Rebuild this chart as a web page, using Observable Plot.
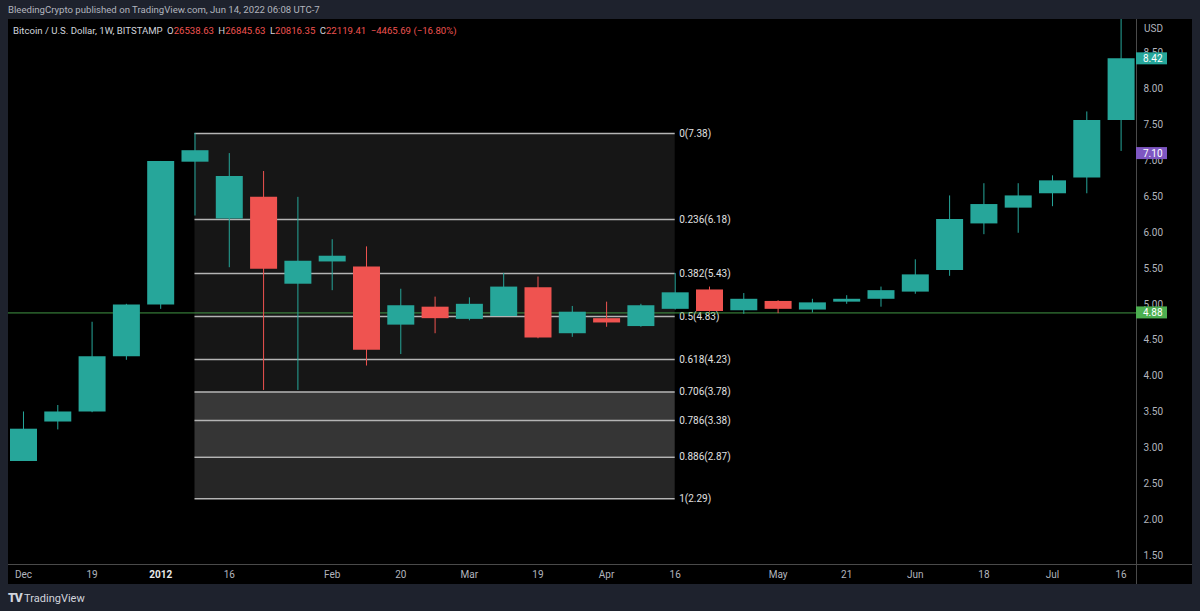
<!DOCTYPE html>
<html><head><meta charset="utf-8">
<script src="https://cdn.jsdelivr.net/npm/d3@7"></script>
<script src="https://cdn.jsdelivr.net/npm/@observablehq/plot@0.6"></script>
<style>
body{margin:0;background:#1e222d;width:1200px;height:611px;overflow:hidden;position:relative;font-family:Roboto,"Liberation Sans",sans-serif;}
#hdr{position:absolute;left:8px;top:4px;font-size:9.6px;color:#b2b5be;white-space:pre}
#chart{position:absolute;left:8px;top:19px;width:1184px;height:565px;background:#000;}
#chart svg{display:block}
#legend{position:absolute;left:13px;top:25px;font-size:9.6px;color:#d1d4dc;white-space:pre}
#legend .v{color:#ef5350}
#legend .g{margin-left:2px}
#usd{position:absolute;left:1144px;top:23px;font-size:10px;color:#b2b5be}
#foot{position:absolute;left:8px;top:591px;font-size:11px;color:#d1d4dc;white-space:pre}
#foot b{font-weight:900;letter-spacing:-1px;font-size:12px}
</style></head><body>
<div id="hdr">BleedingCrypto published on TradingView.com, Jun 14, 2022 06:08 UTC-7</div>
<div id="chart"></div>
<div id="legend">Bitcoin / U.S. Dollar, 1W, BITSTAMP <span class="g">O</span><span class="v">26538.63</span> <span class="g">H</span><span class="v">26845.63</span> <span class="g">L</span><span class="v">20816.35</span> <span class="g">C</span><span class="v">22119.41</span> <span class="v g">−4465.69 (−16.80%)</span></div>
<div id="usd">USD</div>
<div id="foot"><b>TV</b> TradingView</div>
<script>
// weekly candles (week start dates)
const weeks = ["2011-12-05","2011-12-12","2011-12-19","2011-12-26","2012-01-02","2012-01-09","2012-01-16","2012-01-23","2012-01-30",
  "2012-02-06","2012-02-13","2012-02-20","2012-02-27","2012-03-05","2012-03-12","2012-03-19","2012-03-26","2012-04-02","2012-04-09",
  "2012-04-16","2012-04-23","2012-04-30","2012-05-07","2012-05-14","2012-05-21","2012-05-28","2012-06-04","2012-06-11","2012-06-18",
  "2012-06-25","2012-07-02","2012-07-09","2012-07-16"];
const opens  = [2.81,3.36,3.50,4.27,4.99,6.98,6.19,6.49,5.28,5.59,5.52,4.71,4.96,4.79,4.83,5.23,4.59,4.80,4.69,4.93,5.20,4.91,5.04,4.92,5.03,5.07,5.17,5.47,6.12,6.34,6.54,6.76,7.56];
const highs  = [3.50,3.59,4.75,5.00,6.99,7.38,7.10,6.85,6.49,5.90,5.80,5.21,5.10,5.09,5.43,5.38,4.97,5.03,5.00,5.43,5.24,5.15,5.05,5.07,5.12,5.24,5.62,6.51,6.68,6.68,6.79,7.68,9.10];
const lows   = [2.81,3.25,3.49,4.22,4.93,6.23,5.51,3.80,3.80,5.19,4.14,4.30,4.59,4.77,4.83,4.52,4.54,4.68,4.68,4.92,4.89,4.86,4.87,4.88,5.00,4.96,5.14,5.39,5.97,5.99,6.36,6.54,7.13];
const closes = [3.26,3.50,4.27,4.99,6.99,7.14,6.78,5.49,5.60,5.67,4.36,4.98,4.80,5.00,5.24,4.53,4.89,4.74,4.98,5.16,4.90,5.07,4.93,5.02,5.07,5.19,5.41,6.18,6.39,6.51,6.72,7.56,8.42];

// x axis tick labels
const tickWeeks  = ["2011-12-05","2011-12-19","2012-01-02","2012-01-16","2012-02-06","2012-02-20","2012-03-05","2012-03-19","2012-04-02","2012-04-16","2012-05-07","2012-05-21","2012-06-04","2012-06-18","2012-07-02","2012-07-16"];
const tickLabels = ["Dec","19","2012","16","Feb","20","Mar","19","Apr","16","May","21","Jun","18","Jul","16"];
const yTicks = [1.5,2,2.5,3,3.5,4,4.5,5,5.5,6,6.5,7,7.5,8,8.5];

// Fibonacci retracement
const fibLevels = [0,0.236,0.382,0.5,0.618,0.706,0.786,0.886,1];
const fibValues = [7.38,6.18,5.43,4.83,4.23,3.78,3.38,2.87,2.29];
const fibZoneFill = ["#161616","#161616","#161616","#161616","#161616","#383838","#353535","#262626"];
const fibStart = "2012-01-09", fibEnd = "2012-04-16";

// price tags
const tagValues = [8.42,7.10,4.88];
const tagColors = ["#26a69a","#7e57c2","#4caf50"];
const lastLine = 4.88;

const FONT = "Roboto, 'Liberation Sans', sans-serif";
const UP = "#26a69a", DOWN = "#ef5350";
const WEEK = 7*864e5;
const d = s => new Date(s + "T00:00:00Z");
const candles = weeks.map((w,i)=>({date:d(w),o:opens[i],h:highs[i],l:lows[i],c:closes[i],col:closes[i]>=opens[i]?UP:DOWN}));
const fibRows = fibLevels.map((lv,i)=>({lv,v:fibValues[i],label:`${lv}(${fibValues[i].toFixed(2)})`}));
const fibZones = fibValues.slice(0,-1).map((v,i)=>({y1:v,y2:fibValues[i+1],fill:fibZoneFill[i]}));
const labelOf = new Map(tickWeeks.map((w,i)=>[+d(w),tickLabels[i]]));
const d0 = d(weeks[0]);

const chart = Plot.plot({
  width: 1184, height: 565,
  marginLeft: 0, marginRight: 56, marginTop: 0, marginBottom: 20,
  style: {background:"transparent", color:"#b2b5be", fontSize:"10px", fontFamily:FONT},
  x: {type:"utc", domain:[new Date(+d0 - 0.437*WEEK), new Date(+d0 + 32.449*WEEK)]},
  y: {domain:[1.375, 8.968]},
  marks: [
    Plot.rect(fibZones, {x1:()=>d(fibStart), x2:()=>d(fibEnd), y1:"y1", y2:"y2", fill:"fill"}),
    Plot.ruleY(fibRows, {y:"v", x1:()=>d(fibStart), x2:()=>d(fibEnd), stroke:"#b4b4b4", strokeWidth:1.5}),
    Plot.text(fibRows, {y:"v", x:()=>d(fibEnd), text:"label", textAnchor:"start", dx:4, fill:"#e0e0e0", fontSize:10}),
    Plot.ruleY([lastLine], {stroke:"#4caf50", strokeWidth:1, strokeOpacity:0.85}),
    Plot.ruleX(candles, {x:"date", y1:"l", y2:"h", stroke:"col", strokeWidth:1}),
    Plot.ruleX(candles, {x:"date", y1:"o", y2:"c", stroke:"col", strokeWidth:27}),
    Plot.axisY({anchor:"right", ticks:yTicks, tickSize:0, tickPadding:7, tickFormat:v=>v.toFixed(2), label:null}),
    Plot.axisX({ticks:tickWeeks.map(d), tickSize:0, tickPadding:6, tickFormat:t=>labelOf.get(+t) ?? "", label:null})
  ]
});
document.getElementById("chart").appendChild(chart);

const svg = d3.select(chart);
svg.selectAll("text").filter(function(){return this.textContent==="2012";}).attr("font-weight","bold").attr("fill","#e8e8e8");
// separators
svg.append("line").attr("x1",1128.5).attr("x2",1128.5).attr("y1",0).attr("y2",565).attr("stroke","#4a4a4a");
svg.append("line").attr("x1",0).attr("x2",1184).attr("y1",545.5).attr("y2",545.5).attr("stroke","#4a4a4a");
// price tags
const ys = chart.scale("y");
tagValues.forEach((v,i)=>{
  const y = ys.apply(v);
  svg.append("rect").attr("x",1128).attr("y",y-6).attr("width",31).attr("height",12).attr("fill",tagColors[i]);
  svg.append("text").attr("x",1135).attr("y",y).attr("dy","0.35em").attr("text-anchor","start").attr("fill","#fff").attr("font-size",10)
    .attr("font-family",FONT).text(v.toFixed(2));
});
</script>
</body></html>
